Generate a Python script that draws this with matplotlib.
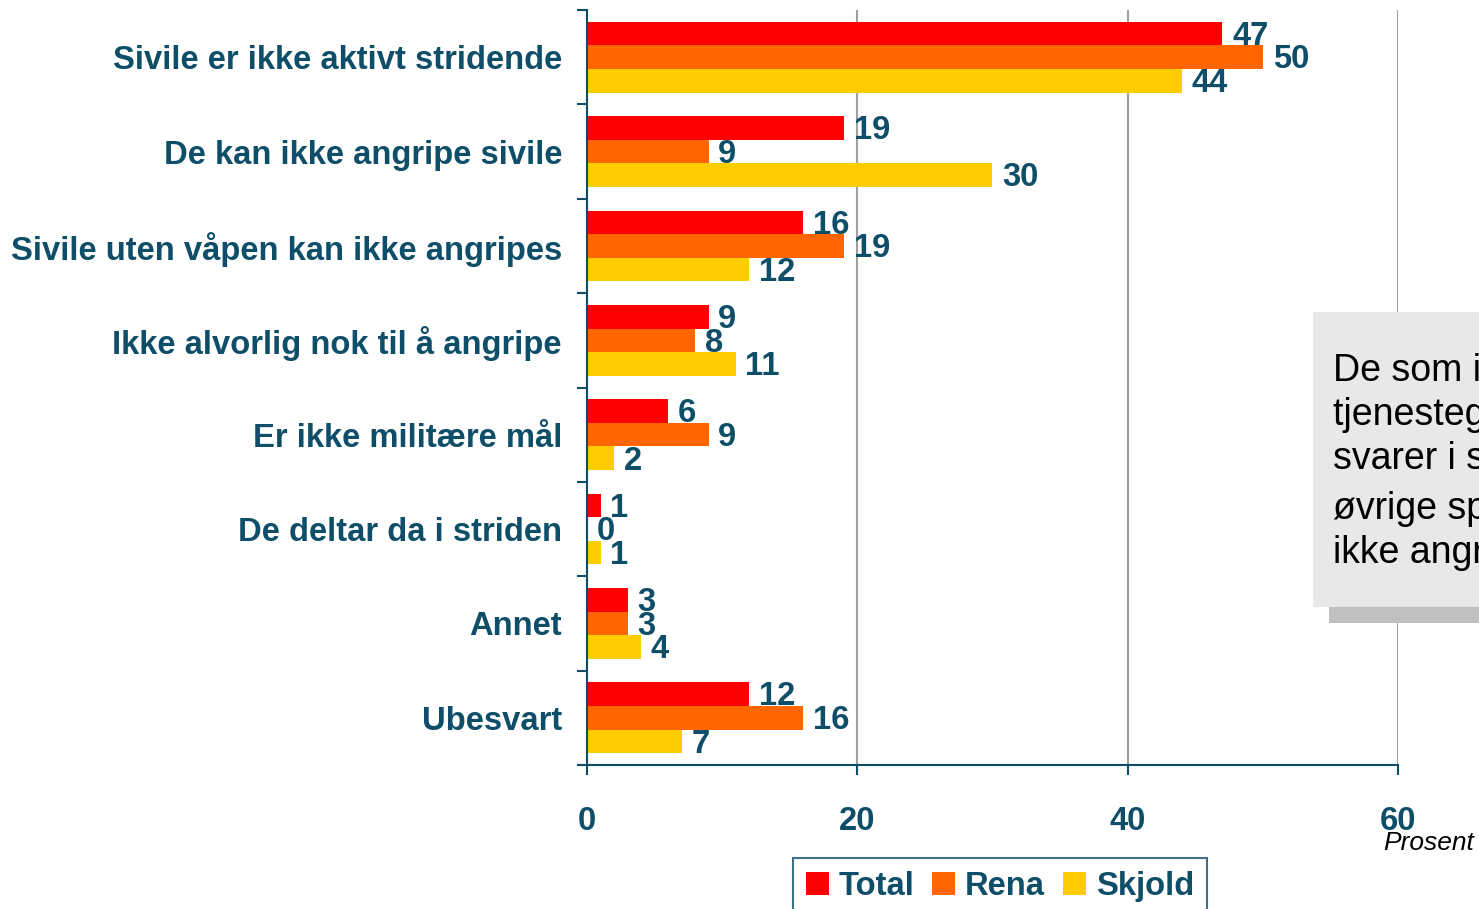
import numpy as np
import matplotlib.pyplot as plt
from matplotlib.patches import Rectangle

plt.rcParams['font.family'] = ['Liberation Sans', 'DejaVu Sans']

# Data
categories = ['Sivile er ikke aktivt stridende', 'De kan ikke angripe sivile',
              'Sivile uten våpen kan ikke angripes', 'Ikke alvorlig nok til å angripe',
              'Er ikke militære mål', 'De deltar da i striden', 'Annet', 'Ubesvart']
total = [47, 19, 16, 9, 6, 1, 3, 12]
rena = [50, 9, 19, 8, 9, 0, 3, 16]
skjold = [44, 30, 12, 11, 2, 1, 4, 7]
series_names = ['Total', 'Rena', 'Skjold']
colors = ['#FF0000', '#FF6600', '#FFCC00']
x_ticks = [0, 20, 40, 60]

TEAL = '#0E4E68'
FS = 23.6

fig = plt.figure(figsize=(14.79, 9.09), dpi=100)
ax = fig.add_axes([587 / 1479, 1 - 765 / 909, (1398 - 587) / 1479, (765 - 10) / 909])

y = np.arange(len(categories))
h = 0.25
for k, (vals, name, c) in enumerate(zip([total, rena, skjold], series_names, colors)):
    pos = y + (k - 1) * h
    ax.barh(pos, vals, height=h, color=c, label=name, zorder=2)
    for p, v in zip(pos, vals):
        ax.annotate(str(v), (v, p), xytext=(7, -2), textcoords='offset points',
                    ha='left', va='center', fontsize=FS, fontweight='bold',
                    color=TEAL, zorder=3)

ax.set_ylim(len(categories) - 0.5, -0.5)
ax.set_xlim(0, 60)

ax.set_yticks(y)
ax.set_yticklabels(categories, fontsize=FS, fontweight='bold', color=TEAL)
ax.set_yticks(np.arange(-0.5, len(categories)), minor=True)
ax.tick_params(axis='y', which='major', length=0, pad=18)
ax.tick_params(axis='y', which='minor', length=7.2, width=1.5, color=TEAL, direction='out')

ax.set_xticks(x_ticks)
ax.set_xticklabels([str(t) for t in x_ticks], fontsize=FS, fontweight='bold', color=TEAL)
ax.tick_params(axis='x', length=7.2, width=1.5, color=TEAL, direction='out', pad=22)

for s in ['top', 'right']:
    ax.spines[s].set_visible(False)
for s in ['left', 'bottom']:
    ax.spines[s].set_color(TEAL)
    ax.spines[s].set_linewidth(1.5)

ax.set_axisbelow(True)
ax.xaxis.grid(True, color='#A0A0A0', linewidth=1.5)

fig.text(1474 / 1479, 1 - 843 / 909, 'Prosent', ha='right', va='center',
         fontsize=19, style='italic', color='black')

leg = fig.legend(loc='upper center', bbox_to_anchor=(1000 / 1479, 1 - 858 / 909),
                 ncol=3, fontsize=FS, frameon=True, fancybox=False,
                 handlelength=0.7, handleheight=0.7, handletextpad=0.3,
                 columnspacing=0.55, borderpad=0.4, borderaxespad=0)
leg.get_frame().set_edgecolor(TEAL)
leg.get_frame().set_linewidth(1.5)
for t in leg.get_texts():
    t.set_color(TEAL)
    t.set_fontweight('bold')

# Comment box on the right (cut off at figure edge)
fig.patches.append(Rectangle((1329 / 1479, 1 - 623 / 909), 0.3, (623 - 330) / 909,
                             transform=fig.transFigure, facecolor='#BFBFBF',
                             edgecolor='none', zorder=1))
fig.patches.append(Rectangle((1313 / 1479, 1 - 607 / 909), 0.3, (607 - 312) / 909,
                             transform=fig.transFigure, facecolor='#E8E8E8',
                             edgecolor='none', zorder=2))
fig.text(1333 / 1479, 1 - 462 / 909,
         'De som ikke har\ntjenestegjort i utlandet\nsvarer i større grad enn\n'
         'øvrige spørsmålet om å\nikke angripe sivile',
         ha='left', va='center', fontsize=27, color='black', linespacing=1.3, zorder=3)

fig.savefig('out.png', dpi=100)
